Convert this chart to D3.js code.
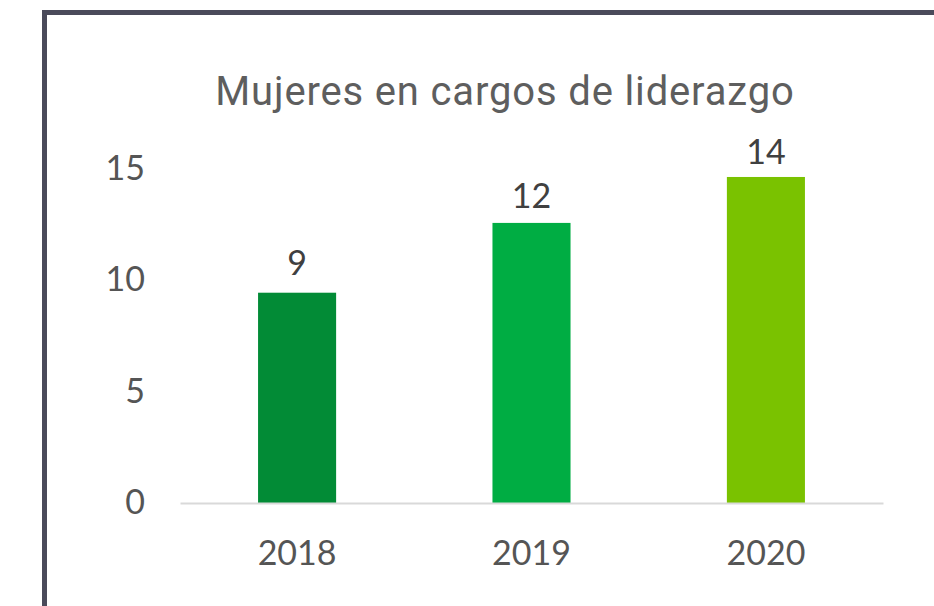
<!DOCTYPE html>
<html><head><meta charset="utf-8">
<script src="https://cdn.jsdelivr.net/npm/d3@7"></script>
<style>html,body{margin:0;padding:0;background:#fff;}svg{display:block;}</style>
</head><body>
<svg id="chart" width="934" height="606"></svg>
<script>
const title = "Mujeres en cargos de liderazgo";
const categories = ["2018", "2019", "2020"];
const values = [9.43, 12.56, 14.62];
const valueLabels = [9, 12, 14];
const colors = ["#028b36", "#00ad43", "#7ac200"];
const yTicks = [0, 5, 10, 15];

const svg = d3.select("#chart");
const W = 934, H = 606;
svg.append("rect").attr("width", W).attr("height", H).attr("fill", "#fff");
// frame
svg.append("rect").attr("x", 44.5).attr("y", 12.5).attr("width", 1000).attr("height", 1000)
  .attr("fill", "none").attr("stroke", "#4a4a5a").attr("stroke-width", 5);

const x = d3.scaleBand().domain(categories).range([180, 883]).paddingInner(0.667).paddingOuter(0.333);
const y = d3.scaleLinear().domain([0, 15]).range([503, 168.5]);

svg.append("text").attr("x", 505).attr("y", 105).attr("text-anchor", "middle")
  .attr("font-family", "Roboto, sans-serif").attr("font-size", 40).attr("letter-spacing", "0.85px")
  .attr("fill", "#5e5e5e").text(title);

// y axis labels
const yAxis = d3.axisLeft(y).tickValues(yTicks).tickSize(0).tickPadding(0);
const gy = svg.append("g").attr("transform", "translate(145,0)").call(yAxis);
gy.select(".domain").remove();
gy.selectAll("text").attr("font-family", "Lato, sans-serif").attr("font-size", 34).attr("fill", "#555");

// bars
svg.selectAll("rect.bar").data(values).enter().append("rect").attr("class", "bar")
  .attr("x", (d, i) => x(categories[i])).attr("width", x.bandwidth())
  .attr("y", d => y(d)).attr("height", d => y(0) - y(d))
  .attr("fill", (d, i) => colors[i]);

// baseline x axis
const xAxis = d3.axisBottom(x).tickSize(0).tickPadding(34);
const gx = svg.append("g").attr("transform", `translate(0,${y(0)})`).call(xAxis);
gx.select(".domain").attr("stroke", "#d9d9d9").attr("stroke-width", 2);
gx.selectAll("text").attr("font-family", "Lato, sans-serif").attr("font-size", 34).attr("fill", "#555")
  .attr("dy", "0.35em").attr("y", 50);

// value labels
svg.selectAll("text.vl").data(valueLabels).enter().append("text").attr("class", "vl")
  .attr("x", (d, i) => x(categories[i]) + x.bandwidth() / 2)
  .attr("y", d => y(d) - 39).attr("dy", "0.35em").attr("text-anchor", "middle")
  .attr("font-family", "Lato, sans-serif").attr("font-size", 34).attr("fill", "#404040")
  .text(d => d);
</script>
</body></html>
